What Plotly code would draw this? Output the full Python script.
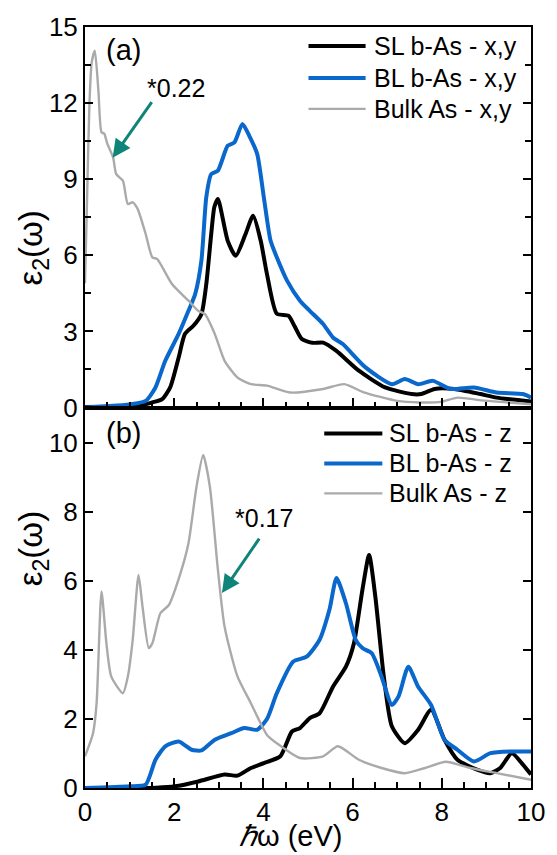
import plotly.graph_objects as go

# ---------------- data ----------------
# Panel (a): in-plane (x,y)
sl_xy_x = [0, 0.5, 1.0, 1.3, 1.51, 1.73, 1.91, 2.10, 2.24, 2.43, 2.61, 2.72, 2.83, 2.90, 2.98, 3.2, 3.38,
           3.6, 3.77, 3.94, 4.08, 4.3, 4.56, 4.7, 4.86, 5.1, 5.34, 5.63, 6.14, 6.73, 7.32, 7.54, 7.84,
           8.28, 8.87, 9.23, 10.0]
sl_xy_y = [0.02, 0.03, 0.05, 0.1, 0.2, 0.33, 0.79, 1.97, 2.9, 3.22, 3.68, 4.87, 6.84, 7.9, 8.22, 6.57, 5.98,
           6.84, 7.56, 6.57, 5.26, 3.7, 3.62, 3.2, 2.7, 2.55, 2.56, 2.24, 1.45, 0.79, 0.53, 0.53, 0.73,
           0.73, 0.53, 0.39, 0.24]

bl_xy_x = [0, 0.5, 1.0, 1.36, 1.58, 1.80, 2.10, 2.32, 2.47, 2.61, 2.72, 2.83, 2.98, 3.2, 3.35, 3.53, 3.68,
           3.86, 4.01, 4.16, 4.3, 4.53, 4.82, 5.04, 5.34, 5.56, 5.78, 6.29, 6.88, 7.17, 7.47, 7.8, 8.2,
           8.72, 9.23, 9.82, 10.0]
bl_xy_y = [0.0, 0.05, 0.12, 0.26, 0.79, 1.84, 2.9, 3.81, 4.47, 5.79, 8.3, 9.2, 9.34, 10.32, 10.45, 11.18, 10.72,
           10.0, 8.28, 6.58, 5.92, 5.0, 4.21, 3.81, 3.29, 2.76, 2.5, 1.58, 0.92, 1.12, 0.92, 1.05, 0.73,
           0.79, 0.59, 0.53, 0.39]

bulk_xy_x = [0, 0.05, 0.1, 0.15, 0.22, 0.3, 0.37, 0.43, 0.5, 0.63, 0.70, 0.85, 0.96, 1.07, 1.18, 1.36,
             1.51, 1.62, 1.95, 2.32, 2.54, 2.69, 2.91, 3.13, 3.42, 3.72, 4.08, 4.6, 5.34, 5.81, 6.25,
             7.0, 7.5, 7.98, 8.35, 8.9, 9.5, 10.0]
bulk_xy_y = [4.9, 8.5, 12.0, 13.6, 14.07, 12.5, 10.85, 10.8, 10.4, 9.86, 9.2, 8.94, 8.02, 8.09, 7.83, 6.84,
             5.92, 5.85, 4.87, 4.21, 3.81, 3.68, 2.9, 1.84, 1.18, 0.92, 0.86, 0.59, 0.73, 0.92, 0.6,
             0.26, 0.2, 0.22, 0.39, 0.28, 0.2, 0.13]

# Panel (b): out-of-plane (z)
sl_z_x = [0, 1.0, 1.6, 2.02, 2.54, 3.13, 3.42, 3.72, 4.01, 4.38, 4.64, 4.82, 5.04, 5.26, 5.56, 5.85, 6.03,
          6.22, 6.37, 6.51, 6.70, 6.88, 7.17, 7.47, 7.76, 8.06, 8.35, 8.79, 9.09, 9.31, 9.57, 9.82, 10.0]
sl_z_y = [0.0, 0.0, 0.01, 0.05, 0.19, 0.39, 0.36, 0.58, 0.72, 0.92, 1.64, 1.74, 2.03, 2.17, 2.94, 3.52, 4.2,
          5.75, 6.76, 5.55, 3.23, 1.79, 1.3, 1.69, 2.27, 1.4, 0.82, 0.53, 0.43, 0.58, 1.01, 0.68, 0.39]

bl_z_x = [0, 1.0, 1.36, 1.58, 1.8, 2.1, 2.39, 2.61, 2.91, 3.28, 3.57, 3.86, 4.08, 4.3, 4.67, 4.97, 5.26,
          5.48, 5.64, 5.85, 6.07, 6.22, 6.43, 6.65, 6.88, 7.03, 7.25, 7.47, 7.76, 8.06, 8.35, 8.72, 9.09,
          9.53, 10.0]
bl_z_y = [0.0, 0.05, 0.1, 0.82, 1.21, 1.35, 1.11, 1.09, 1.4, 1.59, 1.74, 1.69, 2.0, 2.75, 3.67, 3.81, 4.3,
          5.17, 6.09, 5.36, 4.3, 4.06, 3.91, 3.23, 2.41, 2.66, 3.52, 2.94, 2.41, 1.4, 1.11, 0.77, 1.01,
          1.06, 1.06]

bulk_z_x = [0.0, 0.18, 0.26, 0.37, 0.48, 0.59, 0.85, 0.96, 1.07, 1.2, 1.29, 1.43, 1.51, 1.69, 1.88, 2.14,
            2.32, 2.5, 2.65, 2.8, 2.98, 3.13, 3.42, 3.72, 3.86, 4.08, 4.3, 4.82, 5.34, 5.67, 6.14, 6.65,
            7.17, 7.62, 8.09, 8.64, 9.23, 10.0]
bulk_z_y = [0.92, 1.59, 2.46, 5.7, 4.2, 3.23, 2.75, 3.23, 4.3, 6.18, 5.26, 4.06, 4.2, 5.07, 5.31, 6.23,
            7.1, 8.74, 9.66, 8.74, 6.33, 4.68, 3.23, 2.46, 2.08, 1.54, 1.3, 0.87, 0.92, 1.21, 0.82, 0.58,
            0.43, 0.58, 0.76, 0.58, 0.43, 0.24]

names_a = ["SL b-As - x,y", "BL b-As - x,y", "Bulk As - x,y"]
names_b = ["SL b-As - z", "BL b-As - z", "Bulk As - z"]
scale_labels = ["*0.22", "*0.17"]
panel_labels = ["(a)", "(b)"]

BLACK = "#000000"
BLUE = "#0a68cc"
GRAY = "#aaaaaa"
TEAL = "#0f857a"
FONT = "Liberation Sans, Arial, sans-serif"
colors = [BLACK, BLUE, GRAY]
widths = [4, 4, 2.4]

fig = go.Figure()

def add(xs, ys, name, color, width, xa, ya):
    fig.add_trace(go.Scatter(x=xs, y=ys, name=name, mode="lines", showlegend=False,
                             line=dict(color=color, width=width, shape="spline", smoothing=0.6),
                             xaxis=xa, yaxis=ya))

add(sl_xy_x, sl_xy_y, names_a[0], colors[0], widths[0], "x", "y")
add(bl_xy_x, bl_xy_y, names_a[1], colors[1], widths[1], "x", "y")
add(bulk_xy_x, bulk_xy_y, names_a[2], colors[2], widths[2], "x", "y")
add(sl_z_x, sl_z_y, names_b[0], colors[0], widths[0], "x2", "y2")
add(bl_z_x, bl_z_y, names_b[1], colors[1], widths[1], "x2", "y2")
add(bulk_z_x, bulk_z_y, names_b[2], colors[2], widths[2], "x2", "y2")

TICKSIZE = 26
axis_common = dict(showline=True, linecolor="black", linewidth=2, showgrid=False, zeroline=False,
                   ticks="inside", tickcolor="black", tickwidth=2,
                   tickfont=dict(family=FONT, size=TICKSIZE, color="black"))

fig.update_layout(
    width=557, height=855,
    margin=dict(l=85, r=19, t=26, b=67),
    paper_bgcolor="white", plot_bgcolor="white",
    font=dict(family=FONT, color="black"),
    showlegend=False,
    xaxis=dict(**axis_common, domain=[0, 1], range=[0, 10], anchor="y", mirror=True,
               dtick=2, ticklen=10, showticklabels=False,
               minor=dict(dtick=0.5, ticklen=6, ticks="inside", tickcolor="black", tickwidth=1.5)),
    yaxis=dict(**axis_common, domain=[0.5, 1], range=[0, 15], anchor="x", mirror="ticks",
               dtick=3, ticklen=8,
               minor=dict(dtick=1.5, ticklen=6, ticks="inside", tickcolor="black", tickwidth=1.5)),
    xaxis2=dict(**axis_common, domain=[0, 1], range=[0, 10], anchor="y2", mirror=True,
                dtick=2, ticklen=10,
                minor=dict(dtick=0.5, ticklen=6, ticks="inside", tickcolor="black", tickwidth=1.5)),
    yaxis2=dict(**axis_common, domain=[0, 0.5], range=[0, 11.04], anchor="x2", mirror="ticks",
                dtick=2, ticklen=8),
)

annotations = [
    dict(text=panel_labels[0], xref="x", yref="y", x=0.86, y=14.1, showarrow=False,
         font=dict(family=FONT, size=29)),
    dict(text=panel_labels[1], xref="x2", yref="y2", x=0.86, y=10.3, showarrow=False,
         font=dict(family=FONT, size=29)),
    dict(text=scale_labels[0], xref="x", yref="y", x=2.05, y=12.6, showarrow=False,
         font=dict(family=FONT, size=25)),
    dict(text=scale_labels[1], xref="x2", yref="y2", x=4.02, y=7.83, showarrow=False,
         font=dict(family=FONT, size=25)),
    # arrows
    dict(text="", xref="x", yref="y", axref="x", ayref="y", x=0.62, y=9.85, ax=1.52, ay=12.1,
         showarrow=True, arrowhead=2, arrowsize=1.2, arrowwidth=3, arrowcolor=TEAL),
    dict(text="", xref="x2", yref="y2", axref="x2", ayref="y2", x=3.07, y=5.66, ax=3.93, ay=7.28,
         showarrow=True, arrowhead=2, arrowsize=1.2, arrowwidth=3, arrowcolor=TEAL),
    # axis titles
    dict(text="ε<sub>2</sub>(ω)", xref="paper", yref="paper", x=-0.168, y=0.761,
         textangle=-90, showarrow=False, font=dict(family=FONT, size=33)),
    dict(text="ε<sub>2</sub>(ω)", xref="paper", yref="paper", x=-0.168, y=0.262,
         textangle=-90, showarrow=False, font=dict(family=FONT, size=33)),
    dict(text="<i>ℏ</i>ω (eV)", xref="paper", yref="paper", x=(294 - 85) / 453, y=-66.5 / 762,
         yanchor="bottom", showarrow=False, font=dict(family=FONT, size=29)),
]

# hand-drawn legends (paper coordinates of the plot area)
def px_x(p):
    return (p - 85) / 453.0

def px_y(p):
    return (788 - p) / 762.0

shapes = []
leg_a = dict(x0=312, x1=370, xt=376, rows=[45, 77, 108])
leg_b = dict(x0=328, x1=387, xt=392, rows=[433, 463, 493])
for leg, names in ((leg_a, names_a), (leg_b, names_b)):
    for i, nm in enumerate(names):
        yy = px_y(leg["rows"][i])
        shapes.append(dict(type="line", xref="paper", yref="paper",
                           x0=px_x(leg["x0"]), x1=px_x(leg["x1"]), y0=yy, y1=yy,
                           line=dict(color=colors[i], width=widths[i])))
        annotations.append(dict(text=nm, xref="paper", yref="paper", x=px_x(leg["xt"]), y=yy,
                                xanchor="left", yanchor="middle", showarrow=False,
                                font=dict(family=FONT, size=25, color="black")))

fig.update_layout(annotations=annotations, shapes=shapes)

fig.write_html("out.html")
